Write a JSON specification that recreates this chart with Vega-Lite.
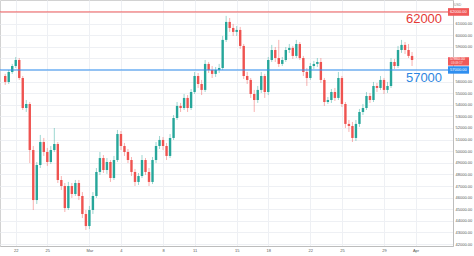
{
  "$schema": "https://vega.github.io/schema/vega-lite/v6.json",
  "width": 453,
  "height": 246,
  "autosize": {"type": "none"},
  "padding": {"left": 0, "top": 0, "right": 21, "bottom": 10},
  "background": "white",
  "config": {
    "view": {"stroke": "#d2d2d2"},
    "font": "Liberation Sans",
    "axis": {"labelFontSize": 4, "labelColor": "#555555", "labelPadding": 2, "ticks": false, "domainColor": "#bdbdbd", "gridColor": "#eef0f4", "labelFlush": false, "labelOverlap": false, "tickCount": 40}
  },
  "datasets": {
    "candles": [
      {"t":"2021-02-21T00:00:00Z","o":56480,"h":56660,"l":55710,"c":55970},
      {"t":"2021-02-21T08:00:00Z","o":55970,"h":57000,"l":55790,"c":56830},
      {"t":"2021-02-21T16:00:00Z","o":56830,"h":57520,"l":56660,"c":57340},
      {"t":"2021-02-22T00:00:00Z","o":57340,"h":58120,"l":57170,"c":57860},
      {"t":"2021-02-22T08:00:00Z","o":57860,"h":58030,"l":56140,"c":56310},
      {"t":"2021-02-22T16:00:00Z","o":56310,"h":56480,"l":53550,"c":53720},
      {"t":"2021-02-23T00:00:00Z","o":53720,"h":54410,"l":53380,"c":54070},
      {"t":"2021-02-23T08:00:00Z","o":54070,"h":54240,"l":48980,"c":50100},
      {"t":"2021-02-23T16:00:00Z","o":50100,"h":50450,"l":44930,"c":45790},
      {"t":"2021-02-24T00:00:00Z","o":45790,"h":49070,"l":45450,"c":48810},
      {"t":"2021-02-24T08:00:00Z","o":48810,"h":51400,"l":48550,"c":50790},
      {"t":"2021-02-24T16:00:00Z","o":50790,"h":51140,"l":49590,"c":49930},
      {"t":"2021-02-25T00:00:00Z","o":49930,"h":50280,"l":48730,"c":49070},
      {"t":"2021-02-25T08:00:00Z","o":49070,"h":50450,"l":48900,"c":50100},
      {"t":"2021-02-25T16:00:00Z","o":50100,"h":52000,"l":49930,"c":50620},
      {"t":"2021-02-26T00:00:00Z","o":50620,"h":50790,"l":47260,"c":47520},
      {"t":"2021-02-26T08:00:00Z","o":47520,"h":47860,"l":46660,"c":47000},
      {"t":"2021-02-26T16:00:00Z","o":47000,"h":47260,"l":44760,"c":45100},
      {"t":"2021-02-27T00:00:00Z","o":45100,"h":47350,"l":44930,"c":47000},
      {"t":"2021-02-27T08:00:00Z","o":47000,"h":47260,"l":45970,"c":46310},
      {"t":"2021-02-27T16:00:00Z","o":46310,"h":47520,"l":46140,"c":47260},
      {"t":"2021-02-28T00:00:00Z","o":47260,"h":47520,"l":45790,"c":46140},
      {"t":"2021-02-28T08:00:00Z","o":46140,"h":46480,"l":44240,"c":44590},
      {"t":"2021-02-28T16:00:00Z","o":44590,"h":44930,"l":43210,"c":43550},
      {"t":"2021-03-01T00:00:00Z","o":43550,"h":45280,"l":43290,"c":44930},
      {"t":"2021-03-01T08:00:00Z","o":44930,"h":46480,"l":44590,"c":46140},
      {"t":"2021-03-01T16:00:00Z","o":46140,"h":48550,"l":45970,"c":48210},
      {"t":"2021-03-02T00:00:00Z","o":48210,"h":49930,"l":47950,"c":49410},
      {"t":"2021-03-02T08:00:00Z","o":49410,"h":49670,"l":48120,"c":48380},
      {"t":"2021-03-02T16:00:00Z","o":48380,"h":49410,"l":48040,"c":49070},
      {"t":"2021-03-03T00:00:00Z","o":49070,"h":49240,"l":47350,"c":47690},
      {"t":"2021-03-03T08:00:00Z","o":47690,"h":49590,"l":47520,"c":49240},
      {"t":"2021-03-03T16:00:00Z","o":49240,"h":51830,"l":49070,"c":51480},
      {"t":"2021-03-04T00:00:00Z","o":51480,"h":51740,"l":50100,"c":50450},
      {"t":"2021-03-04T08:00:00Z","o":50450,"h":50710,"l":49590,"c":49930},
      {"t":"2021-03-04T16:00:00Z","o":49930,"h":50190,"l":48980,"c":49240},
      {"t":"2021-03-05T00:00:00Z","o":49240,"h":49500,"l":47860,"c":48210},
      {"t":"2021-03-05T08:00:00Z","o":48210,"h":48470,"l":47000,"c":47350},
      {"t":"2021-03-05T16:00:00Z","o":47350,"h":48120,"l":47090,"c":47860},
      {"t":"2021-03-06T00:00:00Z","o":47860,"h":49670,"l":47690,"c":49240},
      {"t":"2021-03-06T08:00:00Z","o":49240,"h":49410,"l":47950,"c":48210},
      {"t":"2021-03-06T16:00:00Z","o":48210,"h":48550,"l":47000,"c":47350},
      {"t":"2021-03-07T00:00:00Z","o":47350,"h":49500,"l":47170,"c":49240},
      {"t":"2021-03-07T08:00:00Z","o":49240,"h":50790,"l":48980,"c":50450},
      {"t":"2021-03-07T16:00:00Z","o":50450,"h":51310,"l":50190,"c":50970},
      {"t":"2021-03-08T00:00:00Z","o":50970,"h":51220,"l":50100,"c":50450},
      {"t":"2021-03-08T08:00:00Z","o":50450,"h":50710,"l":49240,"c":49590},
      {"t":"2021-03-08T16:00:00Z","o":49590,"h":51480,"l":49410,"c":51140},
      {"t":"2021-03-09T00:00:00Z","o":51140,"h":53120,"l":50970,"c":52860},
      {"t":"2021-03-09T08:00:00Z","o":52860,"h":54240,"l":52690,"c":53900},
      {"t":"2021-03-09T16:00:00Z","o":53900,"h":54160,"l":53380,"c":53720},
      {"t":"2021-03-10T00:00:00Z","o":53720,"h":54930,"l":53550,"c":54590},
      {"t":"2021-03-10T08:00:00Z","o":54590,"h":54840,"l":53380,"c":53720},
      {"t":"2021-03-10T16:00:00Z","o":53720,"h":55360,"l":53550,"c":55100},
      {"t":"2021-03-11T00:00:00Z","o":55100,"h":56830,"l":54930,"c":56480},
      {"t":"2021-03-11T08:00:00Z","o":56480,"h":56740,"l":55450,"c":55790},
      {"t":"2021-03-11T16:00:00Z","o":55790,"h":56140,"l":54840,"c":55280},
      {"t":"2021-03-12T00:00:00Z","o":55280,"h":57860,"l":55100,"c":57520},
      {"t":"2021-03-12T08:00:00Z","o":57520,"h":57690,"l":56740,"c":57000},
      {"t":"2021-03-12T16:00:00Z","o":57000,"h":57340,"l":56310,"c":56660},
      {"t":"2021-03-13T00:00:00Z","o":56660,"h":57260,"l":56400,"c":57000},
      {"t":"2021-03-13T08:00:00Z","o":57000,"h":57520,"l":56740,"c":57170},
      {"t":"2021-03-13T16:00:00Z","o":57170,"h":59930,"l":57000,"c":59590},
      {"t":"2021-03-14T00:00:00Z","o":59590,"h":61660,"l":59410,"c":61140},
      {"t":"2021-03-14T08:00:00Z","o":61140,"h":61480,"l":60280,"c":60620},
      {"t":"2021-03-14T16:00:00Z","o":60620,"h":60970,"l":59930,"c":60280},
      {"t":"2021-03-15T00:00:00Z","o":60280,"h":60790,"l":59930,"c":60450},
      {"t":"2021-03-15T08:00:00Z","o":60450,"h":60710,"l":58810,"c":59070},
      {"t":"2021-03-15T16:00:00Z","o":59070,"h":59240,"l":56220,"c":56480},
      {"t":"2021-03-16T00:00:00Z","o":56480,"h":56830,"l":55790,"c":56140},
      {"t":"2021-03-16T08:00:00Z","o":56140,"h":56310,"l":54590,"c":54930},
      {"t":"2021-03-16T16:00:00Z","o":54930,"h":55280,"l":53380,"c":54410},
      {"t":"2021-03-17T00:00:00Z","o":54410,"h":55620,"l":54160,"c":55280},
      {"t":"2021-03-17T08:00:00Z","o":55280,"h":56830,"l":55020,"c":56480},
      {"t":"2021-03-17T16:00:00Z","o":56480,"h":56660,"l":54590,"c":55100},
      {"t":"2021-03-18T00:00:00Z","o":55100,"h":58120,"l":54840,"c":57860},
      {"t":"2021-03-18T08:00:00Z","o":57860,"h":59160,"l":57690,"c":58720},
      {"t":"2021-03-18T16:00:00Z","o":58720,"h":58980,"l":57690,"c":58030},
      {"t":"2021-03-19T00:00:00Z","o":58030,"h":59590,"l":57260,"c":57520},
      {"t":"2021-03-19T08:00:00Z","o":57520,"h":58120,"l":57340,"c":57860},
      {"t":"2021-03-19T16:00:00Z","o":57860,"h":58980,"l":57690,"c":58720},
      {"t":"2021-03-20T00:00:00Z","o":58720,"h":59240,"l":58470,"c":58900},
      {"t":"2021-03-20T08:00:00Z","o":58900,"h":59070,"l":57950,"c":58210},
      {"t":"2021-03-20T16:00:00Z","o":58210,"h":59590,"l":58030,"c":59240},
      {"t":"2021-03-21T00:00:00Z","o":59240,"h":59410,"l":57860,"c":58030},
      {"t":"2021-03-21T08:00:00Z","o":58030,"h":58210,"l":56480,"c":56830},
      {"t":"2021-03-21T16:00:00Z","o":56830,"h":57170,"l":55620,"c":56310},
      {"t":"2021-03-22T00:00:00Z","o":56310,"h":57600,"l":56140,"c":57340},
      {"t":"2021-03-22T08:00:00Z","o":57340,"h":57780,"l":57090,"c":57520},
      {"t":"2021-03-22T16:00:00Z","o":57520,"h":58030,"l":57260,"c":57690},
      {"t":"2021-03-23T00:00:00Z","o":57690,"h":58030,"l":55880,"c":56140},
      {"t":"2021-03-23T08:00:00Z","o":56140,"h":56310,"l":53900,"c":54240},
      {"t":"2021-03-23T16:00:00Z","o":54240,"h":54670,"l":54070,"c":54410},
      {"t":"2021-03-24T00:00:00Z","o":54410,"h":55360,"l":54160,"c":55100},
      {"t":"2021-03-24T08:00:00Z","o":55100,"h":55450,"l":54330,"c":54590},
      {"t":"2021-03-24T16:00:00Z","o":54590,"h":56830,"l":54410,"c":56310},
      {"t":"2021-03-25T00:00:00Z","o":56310,"h":56480,"l":53810,"c":54070},
      {"t":"2021-03-25T08:00:00Z","o":54070,"h":54240,"l":52000,"c":52350},
      {"t":"2021-03-25T16:00:00Z","o":52350,"h":52690,"l":51660,"c":52170},
      {"t":"2021-03-26T00:00:00Z","o":52170,"h":52520,"l":50790,"c":51140},
      {"t":"2021-03-26T08:00:00Z","o":51140,"h":52690,"l":50880,"c":52350},
      {"t":"2021-03-26T16:00:00Z","o":52350,"h":53640,"l":52090,"c":53380},
      {"t":"2021-03-27T00:00:00Z","o":53380,"h":54070,"l":53120,"c":53720},
      {"t":"2021-03-27T08:00:00Z","o":53720,"h":55100,"l":53550,"c":54760},
      {"t":"2021-03-27T16:00:00Z","o":54760,"h":55020,"l":54160,"c":54410},
      {"t":"2021-03-28T00:00:00Z","o":54410,"h":55970,"l":54240,"c":55620},
      {"t":"2021-03-28T08:00:00Z","o":55620,"h":55880,"l":55100,"c":55450},
      {"t":"2021-03-28T16:00:00Z","o":55450,"h":56480,"l":55280,"c":56140},
      {"t":"2021-03-29T00:00:00Z","o":56140,"h":56310,"l":54930,"c":55280},
      {"t":"2021-03-29T08:00:00Z","o":55280,"h":55970,"l":55020,"c":55620},
      {"t":"2021-03-29T16:00:00Z","o":55620,"h":58030,"l":55450,"c":57690},
      {"t":"2021-03-30T00:00:00Z","o":57690,"h":57950,"l":57090,"c":57340},
      {"t":"2021-03-30T08:00:00Z","o":57340,"h":59070,"l":57170,"c":58720},
      {"t":"2021-03-30T16:00:00Z","o":58720,"h":59590,"l":58470,"c":59160},
      {"t":"2021-03-31T00:00:00Z","o":59160,"h":59410,"l":58380,"c":58720},
      {"t":"2021-03-31T08:00:00Z","o":58720,"h":59240,"l":58030,"c":58210},
      {"t":"2021-03-31T16:00:00Z","o":58210,"h":58550,"l":57340,"c":57860}
    ],
    "one": [{}]
  },
  "layer": [
    {
      "data": {"name": "candles"},
      "mark": {"type": "rule", "strokeWidth": 1, "opacity": 0.45},
      "encoding": {
        "x": {
          "field": "t", "type": "temporal",
          "scale": {"type": "utc", "domain": [
            {"year": 2021, "month": 2, "date": 20, "hours": 23, "minutes": 30, "utc": true},
            {"year": 2021, "month": 4, "date": 4, "hours": 2, "utc": true}
          ]},
          "axis": {
            "title": null, "orient": "bottom", "tickCount": 40,
            "values": [
              {"year": 2021, "month": 2, "date": 22, "utc": true},
              {"year": 2021, "month": 2, "date": 25, "utc": true},
              {"year": 2021, "month": 3, "date": 1, "utc": true},
              {"year": 2021, "month": 3, "date": 4, "utc": true},
              {"year": 2021, "month": 3, "date": 8, "utc": true},
              {"year": 2021, "month": 3, "date": 11, "utc": true},
              {"year": 2021, "month": 3, "date": 15, "utc": true},
              {"year": 2021, "month": 3, "date": 18, "utc": true},
              {"year": 2021, "month": 3, "date": 22, "utc": true},
              {"year": 2021, "month": 3, "date": 25, "utc": true},
              {"year": 2021, "month": 3, "date": 29, "utc": true},
              {"year": 2021, "month": 4, "date": 1, "utc": true}
            ],
            "labelExpr": "utcdate(datum.value) == 1 ? utcFormat(datum.value, '%b') : utcFormat(datum.value, '%-d')"
          }
        },
        "y": {
          "field": "l", "type": "quantitative",
          "scale": {"domain": [41830, 63030], "nice": false, "zero": false},
          "axis": {
            "title": null, "orient": "right", "tickCount": 40,
            "values": [42000, 43000, 44000, 45000, 46000, 47000, 48000, 49000, 50000, 51000, 52000, 53000, 54000, 55000, 56000, 57000, 58000, 59000, 60000, 61000, 62000],
            "labelExpr": "datum.value == 62000 || datum.value == 58000 || datum.value == 57000 ? '' : format(datum.value, '.2f')"
          }
        },
        "y2": {"field": "h"},
        "color": {"condition": {"test": "datum.c >= datum.o", "value": "#26a69a"}, "value": "#ef5350"}
      }
    },
    {
      "data": {"name": "candles"},
      "mark": {"type": "bar", "size": 2.4},
      "encoding": {
        "x": {"field": "t", "type": "temporal", "axis": {"title": null}},
        "y": {"field": "o", "type": "quantitative", "axis": {"title": null}},
        "y2": {"field": "c"},
        "color": {"condition": {"test": "datum.c >= datum.o", "value": "#26a69a"}, "value": "#ef5350"}
      }
    },
    {
      "data": {"name": "one"},
      "mark": {"type": "rule", "color": "#f05a5a", "strokeWidth": 1},
      "encoding": {"y": {"datum": 62000, "type": "quantitative", "axis": {"title": null}}}
    },
    {
      "data": {"name": "one"},
      "mark": {"type": "rule", "color": "#2f8ff0", "strokeWidth": 1},
      "encoding": {"y": {"datum": 57000, "type": "quantitative", "axis": {"title": null}}}
    },
    {
      "data": {"name": "one"},
      "mark": {"type": "text", "text": "62000", "color": "#e53935", "fontSize": 13, "align": "right", "baseline": "middle", "dy": 7},
      "encoding": {
        "x": {"datum": {"year": 2021, "month": 4, "date": 3, "hours": 12, "minutes": 30, "utc": true}, "type": "temporal", "axis": {"title": null}},
        "y": {"datum": 62000, "type": "quantitative", "axis": {"title": null}}
      }
    },
    {
      "data": {"name": "one"},
      "mark": {"type": "text", "text": "57000", "color": "#2d86e0", "fontSize": 13, "align": "right", "baseline": "middle", "dy": 8.5},
      "encoding": {
        "x": {"datum": {"year": 2021, "month": 4, "date": 3, "hours": 12, "minutes": 30, "utc": true}, "type": "temporal", "axis": {"title": null}},
        "y": {"datum": 57000, "type": "quantitative", "axis": {"title": null}}
      }
    },
    {
      "data": {"name": "one"},
      "mark": {"type": "rect", "color": "#f05a5a", "clip": false},
      "encoding": {
        "x": {"datum": {"year": 2021, "month": 4, "date": 4, "hours": 2, "utc": true}, "type": "temporal", "axis": {"title": null}},
        "x2": {"datum": {"year": 2021, "month": 4, "date": 6, "hours": 2, "utc": true}},
        "y": {"datum": 62330, "type": "quantitative", "axis": {"title": null}},
        "y2": {"datum": 61670}
      }
    },
    {
      "data": {"name": "one"},
      "mark": {"type": "rect", "color": "#f05a5a", "clip": false},
      "encoding": {
        "x": {"datum": {"year": 2021, "month": 4, "date": 4, "hours": 2, "utc": true}, "type": "temporal", "axis": {"title": null}},
        "x2": {"datum": {"year": 2021, "month": 4, "date": 6, "hours": 2, "utc": true}},
        "y": {"datum": 58100, "type": "quantitative", "axis": {"title": null}},
        "y2": {"datum": 57380}
      }
    },
    {
      "data": {"name": "one"},
      "mark": {"type": "rect", "color": "#2f8ff0", "clip": false},
      "encoding": {
        "x": {"datum": {"year": 2021, "month": 4, "date": 4, "hours": 2, "utc": true}, "type": "temporal", "axis": {"title": null}},
        "x2": {"datum": {"year": 2021, "month": 4, "date": 6, "hours": 2, "utc": true}},
        "y": {"datum": 57320, "type": "quantitative", "axis": {"title": null}},
        "y2": {"datum": 56680}
      }
    },
    {
      "data": {"name": "one"},
      "mark": {"type": "text", "text": "62000.00", "color": "white", "fontSize": 4, "align": "left", "baseline": "middle", "dx": 2, "clip": false},
      "encoding": {
        "x": {"datum": {"year": 2021, "month": 4, "date": 4, "hours": 2, "utc": true}, "type": "temporal", "axis": {"title": null}},
        "y": {"datum": 62000, "type": "quantitative", "axis": {"title": null}}
      }
    },
    {
      "data": {"name": "one"},
      "mark": {"type": "text", "text": "57860.00", "color": "white", "fontSize": 3.6, "align": "left", "baseline": "middle", "dx": 2, "dy": -0.8, "clip": false},
      "encoding": {
        "x": {"datum": {"year": 2021, "month": 4, "date": 4, "hours": 2, "utc": true}, "type": "temporal", "axis": {"title": null}},
        "y": {"datum": 57860, "type": "quantitative", "axis": {"title": null}}
      }
    },
    {
      "data": {"name": "one"},
      "mark": {"type": "text", "text": "03:09:17", "color": "#ffe0e0", "fontSize": 3, "align": "left", "baseline": "middle", "dx": 3, "dy": 3, "clip": false},
      "encoding": {
        "x": {"datum": {"year": 2021, "month": 4, "date": 4, "hours": 2, "utc": true}, "type": "temporal", "axis": {"title": null}},
        "y": {"datum": 57860, "type": "quantitative", "axis": {"title": null}}
      }
    },
    {
      "data": {"name": "one"},
      "mark": {"type": "text", "text": "57000.00", "color": "white", "fontSize": 4, "align": "left", "baseline": "middle", "dx": 2, "clip": false},
      "encoding": {
        "x": {"datum": {"year": 2021, "month": 4, "date": 4, "hours": 2, "utc": true}, "type": "temporal", "axis": {"title": null}},
        "y": {"datum": 57000, "type": "quantitative", "axis": {"title": null}}
      }
    },
    {
      "data": {"name": "one"},
      "mark": {"type": "text", "text": "USD", "color": "#888888", "fontSize": 3.5, "align": "left", "baseline": "middle", "dx": 6, "clip": false},
      "encoding": {
        "x": {"datum": {"year": 2021, "month": 4, "date": 4, "hours": 2, "utc": true}, "type": "temporal", "axis": {"title": null}},
        "y": {"datum": 62600, "type": "quantitative", "axis": {"title": null}}
      }
    }
  ]
}
